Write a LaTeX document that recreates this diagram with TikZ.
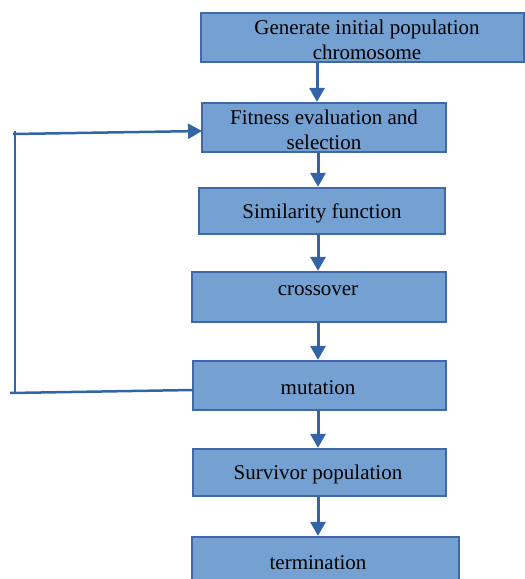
\documentclass[tikz,border=0pt]{standalone}
\usepackage{fontspec}
\setmainfont{Liberation Serif}
\usetikzlibrary{arrows.meta}
\definecolor{boxfill}{RGB}{116,161,209}
\definecolor{boxline}{RGB}{62,104,166}
\definecolor{arrcol}{RGB}{52,100,168}
\tikzset{
  box/.style={draw=boxline, line width=2.2pt, fill=boxfill, rectangle, inner sep=0pt},
  txt/.style={font=\fontsize{21}{25}\selectfont, align=center, inner sep=0pt},
  arr/.style={draw=arrcol, line width=3pt, -{Triangle[width=15pt,length=14pt]}},
  fb/.style={draw=arrcol, line width=2.5pt}
}
\begin{document}
\begin{tikzpicture}[x=1pt,y=-1pt]
\useasboundingbox (0,0) rectangle (525,579);
\node[box, minimum width=323pt, minimum height=49pt] (gen) at (362.5,37.5) {};
\node[box, minimum width=244pt, minimum height=49pt] (fit) at (324,127.5) {};
\node[box, minimum width=246pt, minimum height=46pt] (sim) at (322,211) {};
\node[box, minimum width=254pt, minimum height=50pt] (cro) at (319,297) {};
\node[box, minimum width=253pt, minimum height=49pt] (mut) at (319.5,385.5) {};
\node[box, minimum width=253pt, minimum height=47pt] (sur) at (319.5,472.5) {};
\node[box, minimum width=267pt, minimum height=50pt] (ter) at (325.5,562) {};
\node[txt] (tgen) at (367,40) {Generate initial population\\chromosome};
\node[txt] (tfit) at (324,130) {Fitness evaluation and\\selection};
\node[txt] (tsim) at (322,213.5) {Similarity function};
\node[txt] (tcro) at (318,290.5) {crossover};
\node[txt] (tmut) at (318,388) {mutation};
\node[txt] (tsur) at (318,474.5) {Survivor population};
\node[txt] (tter) at (318,563) {termination};
\coordinate (a1) at (317,0);
\coordinate (a2) at (318,0);
\draw[arr] (gen.south -| a1) -- (fit.north -| a1);
\draw[arr] (fit.south -| a2) -- (sim.north -| a2);
\draw[arr] (sim.south -| a2) -- (cro.north -| a2);
\draw[arr] (cro.south -| a2) -- (mut.north -| a2);
\draw[arr] (mut.south -| a2) -- (sur.north -| a2);
\draw[arr] (sur.south -| a2) -- (ter.north -| a2);
\coordinate (mr) at (193,390);
\coordinate (ml) at (10,393);
\coordinate (vb) at (15,392);
\coordinate (vt) at (15,131);
\coordinate (hl) at (13,134);
\coordinate (fr) at (202,131);
\draw[fb] (mr) -- (ml);
\draw[fb] (vb) -- (vt);
\draw[arr, line width=2.5pt] (hl) -- (fr);
\end{tikzpicture}
\end{document}
